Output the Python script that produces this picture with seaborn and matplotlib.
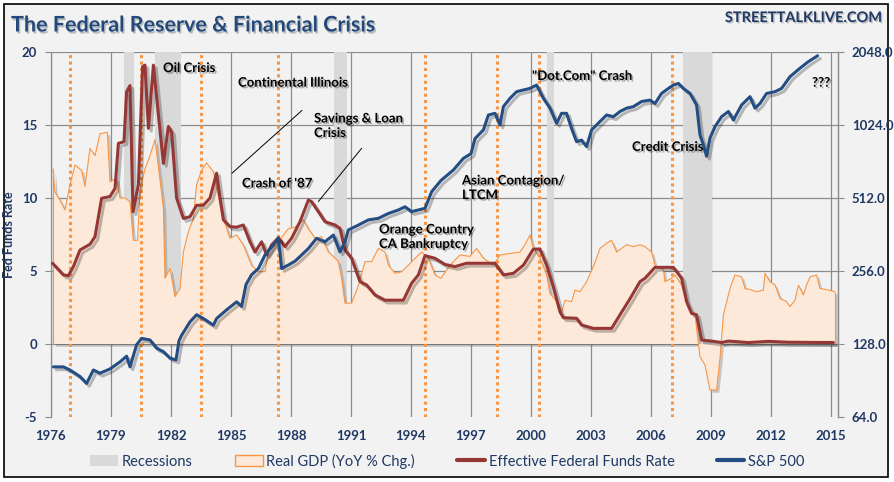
#!/usr/bin/env python3
"""The Federal Reserve & Financial Crisis: fed funds, real GDP and the S&P 500."""

import matplotlib
matplotlib.use("Agg")
import matplotlib.patheffects as pe
import matplotlib.pyplot as plt
import seaborn as sns
from matplotlib.lines import Line2D
from matplotlib.patches import Patch, Rectangle
from matplotlib.ticker import FixedLocator, FormatStrFormatter, NullLocator

# Effective federal funds rate (%)
fed_years = [1976.08, 1976.62, 1976.87, 1977.12, 1977.45, 1977.95, 1978.2, 1978.53,
             1978.95, 1979.2, 1979.37, 1979.65, 1979.78, 1979.95, 1980.1, 1980.37,
             1980.58, 1980.7, 1980.87, 1981.12, 1981.37, 1981.62, 1981.87, 1982.03,
             1982.28, 1982.62, 1982.95, 1983.28, 1983.62, 1983.95, 1984.28, 1984.45,
             1984.62, 1984.95, 1985.28, 1985.62, 1985.95, 1986.2, 1986.53, 1986.78,
             1987.03, 1987.37, 1987.7, 1988.03, 1988.45, 1988.87, 1989.03, 1989.37,
             1989.7, 1990.2, 1990.45, 1990.7, 1991.03, 1991.45, 1991.78, 1992.2,
             1992.7, 1993.2, 1993.62, 1994.03, 1994.37, 1994.7, 1995.2, 1995.7,
             1996.2, 1996.78, 1997.5, 1998.2, 1998.62, 1999.12, 1999.62, 2000.12,
             2000.45, 2000.78, 2001.12, 2001.45, 2001.62, 2002.28, 2002.53, 2003.12,
             2004.03, 2004.45, 2004.95, 2005.45, 2005.7, 2006.2, 2007.12, 2007.53,
             2007.78, 2008.03, 2008.28, 2008.53, 2009.03, 2009.53, 2009.87, 2010.87,
             2011.87, 2012.87, 2015.12]
fed_rate = [5.53, 4.73, 4.68, 5.3, 6.44, 6.83, 7.35, 9.98,
            10.1, 10.66, 13.74, 13.86, 17.28, 17.7, 9.06, 10.9,
            19.0, 19.1, 14.77, 19.1, 15.7, 12.37, 14.9, 14.5,
            10.0, 8.6, 8.72, 9.5, 9.5, 10.0, 11.7, 10.0,
            8.5, 8.04, 8.0, 8.15, 7.0, 6.3, 7.0, 6.1,
            6.78, 7.28, 6.67, 7.24, 8.38, 9.86, 9.75, 9.06,
            8.38, 8.15, 7.92, 6.44, 5.87, 4.27, 4.04, 3.36,
            3.0, 3.0, 3.0, 4.16, 4.73, 6.05, 5.87, 5.45,
            5.3, 5.53, 5.53, 5.53, 4.73, 4.84, 5.4, 6.5,
            6.5, 5.4, 3.9, 2.2, 1.8, 1.76, 1.3, 1.07,
            1.07, 2.0, 3.1, 4.27, 4.5, 5.25, 5.25, 4.5,
            2.9, 2.1, 2.0, 0.27, 0.2, 0.1, 0.2, 0.1,
            0.18, 0.12, 0.1]

# Real GDP, year-over-year % change
gdp_years = [1976.1, 1976.2, 1976.45, 1976.7, 1976.95, 1977.2, 1977.53, 1977.7,
             1977.95, 1978.2, 1978.45, 1978.82, 1978.95, 1979.28, 1979.45, 1979.7,
             1979.95, 1980.12, 1980.33, 1980.45, 1980.7, 1980.95, 1981.2, 1981.37,
             1981.62, 1981.7, 1981.95, 1982.2, 1982.45, 1982.62, 1982.87, 1983.12,
             1983.28, 1983.53, 1983.78, 1984.12, 1984.28, 1984.62, 1984.95, 1985.28,
             1985.62, 1986.03, 1986.37, 1986.7, 1986.87, 1987.37, 1987.62, 1987.87,
             1988.2, 1988.62, 1988.87, 1989.2, 1989.53, 1989.87, 1990.12, 1990.37,
             1990.53, 1990.7, 1991.03, 1991.37, 1991.7, 1992.03, 1992.37, 1992.7,
             1992.87, 1993.2, 1993.53, 1993.87, 1994.2, 1994.53, 1994.87, 1995.2,
             1995.5, 1995.95, 1996.45, 1996.95, 1997.28, 1997.62, 1998.12, 1998.45,
             1998.95, 1999.45, 1999.7, 1999.95, 2000.12, 2000.45, 2000.78, 2000.95,
             2001.28, 2001.53, 2001.7, 2002.03, 2002.2, 2002.45, 2002.78, 2003.12,
             2003.45, 2003.78, 2004.03, 2004.28, 2004.78, 2005.12, 2005.45, 2005.7,
             2006.03, 2006.2, 2006.62, 2006.7, 2007.03, 2007.2, 2007.53, 2007.87,
             2008.2, 2008.45, 2008.7, 2008.95, 2009.28, 2009.45, 2009.62, 2009.95,
             2010.2, 2010.53, 2010.7, 2011.03, 2011.28, 2011.62, 2011.7, 2011.95,
             2012.2, 2012.45, 2012.78, 2012.95, 2013.2, 2013.37, 2013.62, 2013.78,
             2013.95, 2014.28, 2014.45, 2014.87, 2015.2]
gdp_chg = [12.0, 10.4, 9.86, 9.18, 10.9, 12.26, 11.9, 10.8,
           13.4, 12.9, 14.4, 14.5, 11.1, 11.35, 10.0, 10.0,
           9.75, 7.1, 7.1, 10.5, 12.0, 12.9, 14.0, 12.15,
           9.3, 4.5, 5.18, 3.24, 3.8, 6.3, 7.7, 8.6,
           10.9, 11.9, 12.4, 11.8, 10.66, 8.6, 7.24, 7.47,
           6.78, 5.4, 4.95, 4.95, 6.3, 7.0, 7.47, 7.9,
           8.0, 8.5, 7.9, 7.24, 7.35, 6.3, 6.0, 5.64,
           4.5, 2.8, 2.8, 4.0, 5.64, 5.64, 6.55, 6.3,
           5.4, 4.84, 4.95, 5.4, 5.87, 6.3, 5.87, 4.73,
           4.5, 5.4, 6.1, 6.0, 6.55, 5.87, 5.4, 6.1,
           6.2, 6.3, 6.8, 7.47, 6.55, 5.87, 4.73, 3.47,
           2.9, 2.2, 3.0, 2.9, 3.7, 3.58, 4.27, 5.3,
           6.55, 6.9, 7.1, 6.3, 6.8, 6.67, 6.8, 6.67,
           6.3, 5.4, 5.07, 4.27, 4.5, 4.73, 4.04, 2.44,
           2.0, -0.87, -1.44, -3.15, -3.15, -1.0, 2.0, 3.8,
           4.73, 4.6, 3.8, 3.7, 3.58, 3.7, 4.84, 4.27,
           4.04, 3.13, 2.9, 2.56, 3.0, 4.04, 3.36, 4.04,
           4.6, 4.73, 3.8, 3.7, 3.58]

# S&P 500 index level
spx_years = [1976.12, 1976.62, 1976.95, 1977.45, 1977.78, 1978.12, 1978.45, 1978.95,
             1979.45, 1979.78, 1979.95, 1980.28, 1980.53, 1980.95, 1981.28, 1981.62,
             1981.95, 1982.25, 1982.4, 1982.53, 1982.95, 1983.28, 1983.62, 1984.12,
             1984.28, 1984.78, 1985.28, 1985.53, 1985.75, 1986.03, 1986.37, 1986.7,
             1987.12, 1987.37, 1987.53, 1987.87, 1988.2, 1988.53, 1988.87, 1989.28,
             1989.7, 1990.12, 1990.45, 1990.7, 1990.87, 1991.37, 1991.87, 1992.37,
             1992.87, 1993.37, 1993.7, 1994.03, 1994.7, 1995.03, 1995.5, 1996.12,
             1996.62, 1997.0, 1997.2, 1997.62, 1997.87, 1998.2, 1998.45, 1998.62,
             1998.95, 1999.28, 1999.62, 1999.95, 2000.28, 2000.62, 2000.95, 2001.28,
             2001.53, 2001.78, 2002.03, 2002.28, 2002.53, 2002.78, 2003.03, 2003.45,
             2003.78, 2004.12, 2004.45, 2004.78, 2005.12, 2005.53, 2005.95, 2006.2,
             2006.53, 2006.87, 2007.12, 2007.37, 2007.62, 2007.95, 2008.28, 2008.45,
             2008.62, 2008.78, 2008.95, 2009.2, 2009.53, 2009.87, 2010.12, 2010.53,
             2010.95, 2011.2, 2011.45, 2011.78, 2012.2, 2012.53, 2012.95, 2013.45,
             2013.87, 2014.33]
spx_level = [103, 103, 100, 94, 88, 100, 97, 101,
             108, 114, 103, 127, 135, 133, 123, 119,
             112, 110, 132, 139, 158, 169, 163, 153,
             163, 177, 191, 183, 225, 247, 262, 298,
             328, 349, 262, 271, 281, 298, 317, 349,
             338, 360, 307, 338, 378, 396, 416, 422,
             442, 457, 471, 450, 464, 543, 605, 668,
             746, 780, 900, 977, 1126, 1144, 1024, 1219,
             1319, 1405, 1428, 1449, 1496, 1319, 1201, 1040,
             1144, 1144, 990, 874, 887, 834, 977, 1058,
             1126, 1108, 1164, 1201, 1219, 1280, 1297, 1256,
             1382, 1449, 1496, 1520, 1449, 1382, 1238, 931,
             848, 761, 904, 1008, 1108, 1164, 1074, 1238,
             1340, 1201, 1256, 1382, 1405, 1449, 1620, 1756,
             1869, 1976]

# Recession periods (start, end)
recession_start = [1979.65, 1981.18, 1990.17, 2000.8, 2007.58]
recession_end = [1980.15, 1982.49, 1990.8, 2001.15, 2009.03]

# Crisis markers (dotted verticals)
crisis_years = [1976.95, 1980.48, 1983.48, 1987.37, 1994.7, 1998.28, 2000.42, 2007.03]

year_ticks = list(range(1976, 2016, 3))
rate_ticks = [-5, 0, 5, 10, 15, 20]
spx_ticks = [64, 128, 256, 512, 1024, 2048]

NAVY = "#1f3864"
FED_RED = "#953735"
SPX_BLUE = "#244d84"
GDP_FILL = "#fde9d9"
GDP_EDGE = "#f79646"
REC_GRAY = "#d9d9d9"
GRID = "#8c8c8c"

sns.set_style("white")
plt.rcParams["font.family"] = ["Lato", "DejaVu Sans"]

W, H = 895, 482
fig = plt.figure(figsize=(W / 100, H / 100), dpi=100, facecolor="white")
fig.patches.append(Rectangle((4 / W, 5 / H), 884 / W, 473 / H, transform=fig.transFigure,
                             facecolor="#f2f2f2", edgecolor="black", lw=1.2, zorder=-10))
ax = fig.add_axes([51 / W, 65 / H, 787 / W, 365 / H])
ax.set_facecolor("#f2f2f2")

shadow_line = [pe.SimpleLineShadow(offset=(2, -2), shadow_color="k", alpha=0.25), pe.Normal()]
shadow_text = [pe.SimplePatchShadow(offset=(1.2, -1.2), shadow_rgbFace="k", alpha=0.3), pe.Normal()]

# Recession bands
for s, e in zip(recession_start, recession_end):
    ax.fill_between([s, e], 0, 20, color=REC_GRAY, lw=0, zorder=1)

# Real GDP area
poly = ax.fill_between(gdp_years, 0, gdp_chg, color=GDP_FILL, lw=0, zorder=2)
poly.set_path_effects([pe.SimplePatchShadow(offset=(2, -2), alpha=0.25), pe.Normal()])
sns.lineplot(x=gdp_years, y=gdp_chg, ax=ax, color=GDP_EDGE, lw=0.8, sort=False,
             estimator=None, zorder=3)
ax.vlines([gdp_years[0], gdp_years[-1]], 0, [gdp_chg[0], gdp_chg[-1]],
          color=GDP_EDGE, lw=0.8, zorder=3)

# Crisis markers
for x in crisis_years:
    ax.axvline(x, color=GDP_EDGE, lw=2.2, ls=(0, (1.0, 1.1)), zorder=4)

# Fed funds
sns.lineplot(x=fed_years, y=fed_rate, ax=ax, color=FED_RED, lw=2.2, sort=False,
             estimator=None, zorder=5, path_effects=shadow_line)

# Axes cosmetics
ax.set_xlim(1976, 2015.35)
ax.set_ylim(-5, 20)
ax.set_xticks(year_ticks)
ax.set_yticks(rate_ticks)
ax.set_yticklabels([str(v) for v in rate_ticks])
ax.grid(True, color=GRID, lw=0.9)
ax.get_ygridlines()[0].set_visible(False)
ax.set_axisbelow(True)
for side in ("top", "bottom"):
    ax.spines[side].set_visible(False)
for side in ("left", "right"):
    ax.spines[side].set_color(GRID)
    ax.spines[side].set_linewidth(0.9)
ax.tick_params(axis="x", length=0, pad=9, labelsize=9.5, labelcolor=NAVY)
ax.tick_params(axis="y", length=4, color=GRID, pad=6, labelsize=9.5, labelcolor=NAVY)
for lab in ax.get_xticklabels() + ax.get_yticklabels():
    lab.set_fontweight("bold")
ax.set_ylabel("Fed Funds Rate", fontsize=9, fontweight="bold", color=NAVY)
ax.yaxis.set_label_coords(-36 / 787, 0.5)

# Annotations
notes = [
    ("Oil Crisis", 1981.6, 18.9),
    ("Continental Illinois", 1985.35, 17.9),
    ("Crash of '87", 1985.55, 11.0),
    ("Savings & Loan\nCrisis", 1989.15, 14.95),
    ("Orange Country\nCA Bankruptcy", 1992.4, 7.35),
    ("Asian Contagion/\nLTCM", 1996.55, 10.7),
    ("\"Dot.Com\" Crash", 2000.05, 18.36),
    ("Credit Crisis", 2005.05, 13.5),
    ("???", 2014.05, 17.9),
]
for txt, x, y in notes:
    ax.text(x, y, txt, fontsize=9.5, fontweight="bold", color="black", va="center",
            ha="left", linespacing=1.25, zorder=6, path_effects=shadow_text)
ax.plot([1985.05, 1988.55], [11.7, 16.0], color="black", lw=0.7, zorder=6)
ax.plot([1991.53, 1989.37], [13.4, 9.76], color="black", lw=0.7, zorder=6)

# S&P 500 on log2 right axis
ax2 = ax.twinx()
ax2.set_yscale("log", base=2)
ax2.set_ylim(64, 2048)
sns.lineplot(x=spx_years, y=spx_level, ax=ax2, color=SPX_BLUE, lw=2.2, sort=False,
             estimator=None, path_effects=shadow_line)
ax2.yaxis.set_major_locator(FixedLocator(spx_ticks))
ax2.yaxis.set_minor_locator(NullLocator())
ax2.yaxis.set_major_formatter(FormatStrFormatter("%.1f"))
ax2.tick_params(axis="y", length=4, color=GRID, pad=6, labelsize=9.5, labelcolor=NAVY)
for lab in ax2.get_yticklabels():
    lab.set_fontweight("bold")
for side in ("top", "bottom", "left"):
    ax2.spines[side].set_visible(False)
ax2.spines["right"].set_color(GRID)
ax2.spines["right"].set_linewidth(0.9)
ax2.set_ylabel("")
ax.set_xlabel("")

# Titles
fig.text(11 / W, 1 - 25 / H, "The Federal Reserve & Financial Crisis", fontsize=15.5,
         fontweight="bold", color="#22497a", va="center", ha="left",
         path_effects=[pe.SimplePatchShadow(offset=(1, -1.5), alpha=0.25), pe.Normal()])
fig.text(882 / W, 1 - 18 / H, "STREETTALKLIVE.COM", fontsize=10.5, fontweight="bold",
         color="#1f3864", va="center", ha="right",
         path_effects=[pe.SimplePatchShadow(offset=(1, -1), alpha=0.25), pe.Normal()])

# Legend
handles = [Patch(facecolor=REC_GRAY, edgecolor="none"),
           Patch(facecolor=GDP_FILL, edgecolor=GDP_EDGE, lw=1),
           Line2D([], [], color=FED_RED, lw=3),
           Line2D([], [], color=SPX_BLUE, lw=3)]
labels = ["Recessions", "Real GDP (YoY % Chg.)", "Effective Federal Funds Rate", "S&P 500"]
leg = fig.legend(handles, labels, loc="center", bbox_to_anchor=(0.5, 21 / H), ncol=4,
                 frameon=False, fontsize=10.5, handlelength=1.9, handleheight=0.8,
                 handletextpad=0.25, columnspacing=2.9)
for t in leg.get_texts():
    t.set_color(NAVY)

fig.savefig("out.png", dpi=100, facecolor=fig.get_facecolor())
